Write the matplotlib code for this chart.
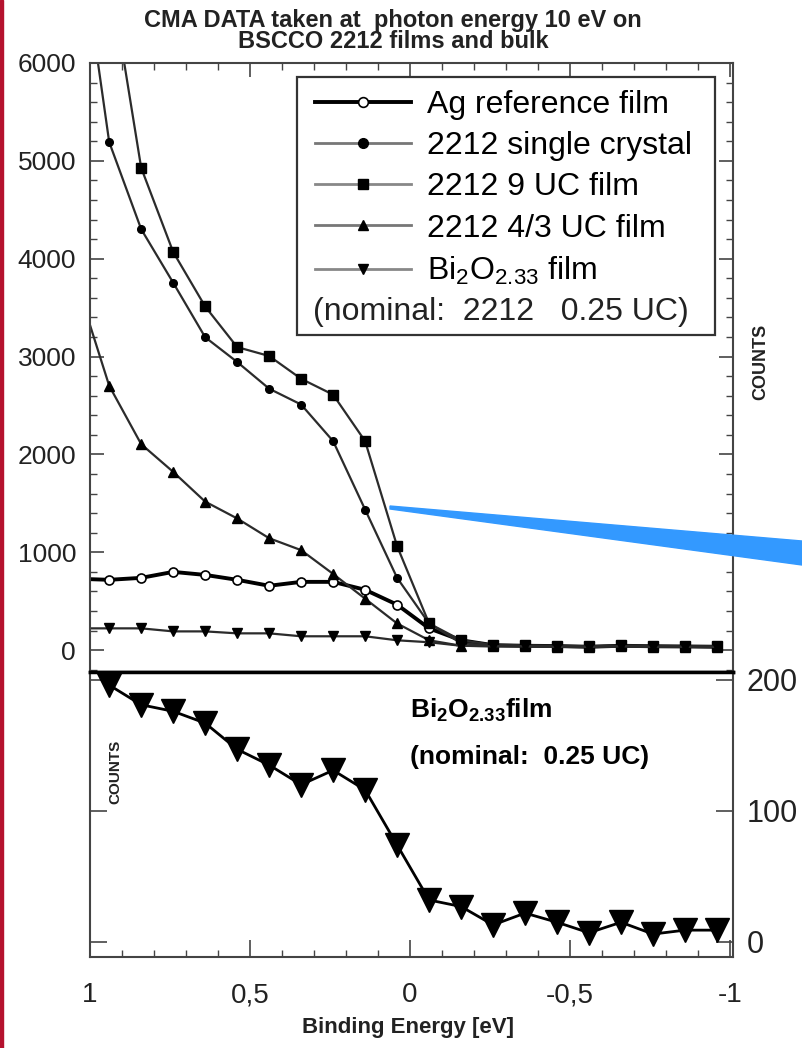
import matplotlib
matplotlib.use('Agg')
import matplotlib.pyplot as plt
import numpy as np
from matplotlib.lines import Line2D
from matplotlib.patches import Polygon, Rectangle
from matplotlib.ticker import MultipleLocator

plt.rcParams['font.family'] = ['Liberation Sans', 'DejaVu Sans']
plt.rcParams['mathtext.fontset'] = 'custom'
plt.rcParams['mathtext.rm'] = 'Liberation Sans'
plt.rcParams['mathtext.bf'] = 'Liberation Sans:bold'

# binding energy (eV) of the measured points, first one sits just past the frame
energy = [1.04, 0.94, 0.84, 0.74, 0.64, 0.54, 0.44, 0.34, 0.24, 0.14, 0.04,
          -0.06, -0.16, -0.26, -0.36, -0.46, -0.56, -0.66, -0.76, -0.86, -0.96]

ag_film = [730, 719, 739, 800, 769, 719, 658, 698, 698, 617, 465,
           223, 101, 51, 45, 42, 35, 45, 40, 38, 35]
crystal = [7500, 5192, 4302, 3755, 3198, 2945, 2672, 2510, 2136, 1437, 739,
           273, 71, 45, 40, 35, 30, 40, 35, 35, 30]
uc9_film = [np.nan, 6950, 4929, 4069, 3512, 3097, 3006, 2773, 2611, 2136, 1063,
            273, 101, 55, 50, 45, 40, 50, 45, 40, 40]
uc43_film = [3735, 2702, 2105, 1822, 1518, 1346, 1144, 1022, 779, 526, 273,
             101, 45, 40, 40, 35, 35, 40, 35, 35, 35]
bi_film = [223, 223, 223, 192, 192, 172, 172, 142, 142, 142, 101,
           81, 45, 40, 40, 35, 35, 40, 35, 35, 35]

# lower panel: Bi2O2.33 film on its own scale
bi_energy = [0.94, 0.84, 0.74, 0.64, 0.54, 0.44, 0.34, 0.24, 0.14, 0.04,
             -0.06, -0.16, -0.26, -0.36, -0.46, -0.56, -0.66, -0.76, -0.86, -0.96]
bi_counts = [196, 181, 176, 167, 147, 135, 120, 131, 116, 74,
             32, 27, 13, 22, 15, 7, 15, 6, 9, 9]

x_ticks = [1, 0.5, 0, -0.5, -1]
x_labels = ['1', '0,5', '0', '-0,5', '-1']

W, H = 802, 1048
fig = plt.figure(figsize=(W / 100, H / 100), dpi=100)
ax1 = fig.add_axes([90 / W, 1 - 672 / H, 643 / W, 609 / H])
ax2 = fig.add_axes([90 / W, 1 - 957 / H, 643 / W, 285 / H])

lc = '#2b2b2b'
ax1.plot(energy, ag_film, color='k', lw=2.8, marker='o', ms=6.5, mfc='white', mec='k', mew=1.2)
ax1.plot(energy, crystal, color=lc, lw=1.6, marker='o', ms=5.5, mfc='k', mec='k')
ax1.plot(energy, uc9_film, color=lc, lw=1.6, marker='s', ms=6.5, mfc='k', mec='k')
ax1.plot(energy, uc43_film, color=lc, lw=1.6, marker='^', ms=6.5, mfc='k', mec='k')
ax1.plot(energy, bi_film, color=lc, lw=1.6, marker='v', ms=6.5, mfc='k', mec='k')

ax1.set_xlim(1.0, -1.01)
ax1.set_ylim(-223, 6000)
ax1.yaxis.set_major_locator(MultipleLocator(1000))
ax1.yaxis.set_minor_locator(MultipleLocator(200))
ax1.xaxis.set_major_locator(MultipleLocator(0.5))
ax1.xaxis.set_minor_locator(MultipleLocator(0.1))
ax1.tick_params(axis='y', which='both', direction='in', left=True, right=True,
                labelleft=True, labelsize=19, pad=10, colors='#444', labelcolor='#222')
ax1.tick_params(axis='x', which='both', direction='in', top=True, bottom=False,
                labelbottom=False, colors='#444')
ax1.tick_params(which='major', length=10, width=1.2)
ax1.tick_params(which='minor', length=5, width=1.0)

# legend
handles = [
    Line2D([], [], color='k', lw=2.8, marker='o', ms=7, mfc='white', mec='k', mew=1.2),
    Line2D([], [], color='#777', lw=2, marker='o', ms=7, mfc='k', mec='k'),
    Line2D([], [], color='#888', lw=2, marker='s', ms=7, mfc='k', mec='k'),
    Line2D([], [], color='#777', lw=2, marker='^', ms=7, mfc='k', mec='k'),
    Line2D([], [], color='#888', lw=2, marker='v', ms=7, mfc='k', mec='k'),
]
labels = ['Ag reference film', '2212 single crystal', '2212 9 UC film',
          '2212 4/3 UC film', r'Bi$_\mathregular{2}$O$_\mathregular{2.33}$ film']
ax1.legend(handles, labels, loc='upper left',
           bbox_to_anchor=((315 - 90) / 643, (672 - 90) / 609),
           frameon=False, fontsize=23, handlelength=3.0, handletextpad=0.5,
           labelspacing=0.35, borderpad=0, borderaxespad=0)
ax1.add_patch(Rectangle(((297 - 90) / 643, (672 - 335) / 609), (715 - 297) / 643,
                        (335 - 77) / 609, transform=ax1.transAxes, fill=False,
                        lw=1.6, ec='#333', zorder=5))
ax1.text((313 - 90) / 643, (672 - 312) / 609, '(nominal:  2212   0.25 UC)',
         fontsize=23, ha='left', va='center', transform=ax1.transAxes, color='#222')

# lower panel
ax2.plot(bi_energy, bi_counts, color='k', lw=2, marker='v', ms=17, mfc='k', mec='k')
ax2.set_xlim(1.0, -1.01)
ax2.set_ylim(-11.5, 206)
ax2.set_xticks(x_ticks)
ax2.set_xticklabels(x_labels)
ax2.xaxis.set_minor_locator(MultipleLocator(0.1))
ax2.set_yticks([0, 100, 200])
ax2.tick_params(axis='x', which='both', direction='in', top=False, bottom=True,
                labelsize=20, pad=18, colors='#444', labelcolor='#222')
ax2.tick_params(axis='y', which='both', direction='in', left=True, right=True,
                labelleft=False, labelright=True, labelsize=22, pad=10,
                colors='#444', labelcolor='#222')
ax2.tick_params(which='major', length=12, width=1.2)
ax2.tick_params(which='minor', length=5, width=1.0)
ax2.text((410 - 90) / 643, (957 - 710) / 285, r'Bi$_\mathbf{2}$O$_\mathbf{2.33}$film',
         fontsize=19, fontweight='bold', ha='left', va='center', transform=ax2.transAxes)
ax2.text((410 - 90) / 643, (957 - 757) / 285, '(nominal:  0.25 UC)',
         fontsize=19, fontweight='bold', ha='left', va='center', transform=ax2.transAxes)

for ax in (ax1, ax2):
    for s in ax.spines.values():
        s.set_linewidth(1.5)
        s.set_color('#444')
ax1.spines['bottom'].set_linewidth(2.5)
ax1.spines['bottom'].set_color('k')
ax2.spines['top'].set_linewidth(2.5)
ax2.spines['top'].set_color('k')

fig.text(393 / W, 1 - 20 / H, 'CMA DATA taken at  photon energy 10 eV on',
         ha='center', va='center', fontsize=17, fontweight='bold', color='#222')
fig.text(393 / W, 1 - 42 / H, 'BSCCO 2212 films and bulk',
         ha='center', va='center', fontsize=17, fontweight='bold', color='#222')
fig.text(408 / W, 1 - 1027 / H, 'Binding Energy [eV]',
         ha='center', va='center', fontsize=16, fontweight='bold', color='#222')
fig.text(761 / W, 1 - 362 / H, 'COUNTS', rotation=90, ha='center', va='center',
         fontsize=13, fontweight='bold', color='#222')
fig.text(115 / W, 1 - 772 / H, 'COUNTS', rotation=90, ha='center', va='center',
         fontsize=11, fontweight='bold', color='#222')

# red edge and blue pointer laid over the figure
fig.add_artist(Rectangle((0, 0), 3 / W, 1, transform=fig.transFigure,
                         color='#b5122e', zorder=10))
fig.add_artist(Polygon([(390 / W, 1 - 506 / H), (1, 1 - 541 / H), (1, 1 - 565 / H),
                        (390 / W, 1 - 509 / H)], closed=True, transform=fig.transFigure,
                       color='#3399ff', zorder=10))

fig.savefig('out.png', dpi=100)
